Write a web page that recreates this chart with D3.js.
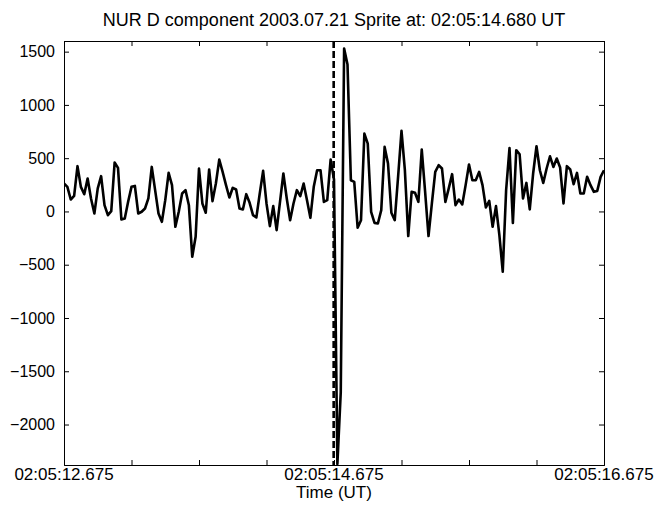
<!DOCTYPE html>
<html>
<head>
<meta charset="utf-8">
<script src="https://cdn.jsdelivr.net/npm/d3@7.9.0/dist/d3.min.js"></script>
<style>
  html, body { margin: 0; padding: 0; background: #fff; }
  svg { display: block; font-family: "Liberation Sans", Arial, Helvetica, sans-serif; }
</style>
</head>
<body>
<svg id="chart" width="665" height="508"></svg>
<script>
// ====== DATA ======

const titleText = 'NUR D component 2003.07.21 Sprite at: 02:05:14.680 UT';
const xLabel = 'Time (UT)';

// seconds after 02:05:00, one sample every 0.025 s
const startSec = 12.675;
const sampleStep = 0.025;
const spriteSec = 14.680;

// D component values as plotted
const dValues = [
  262, 231, 112, 146, 425, 231, 162, 309, 122, -19,
  216, 331, 59, -35, 3, 459, 409, -75, -66, 90,
  231, 240, -19, -3, 28, 122, 418, 200, -19, -97,
  106, 362, 247, -144, -3, 169, 200, 59, -425, -238,
  403, 75, -12, 394, 97, 262, 487, 371, 247, 131,
  222, 206, 28, 19, 162, 81, -35, -56, 169, 381,
  75, -138, 50, -175, 90, 356, 122, -82, 75, 200,
  143, 262, 106, -60, 231, 387, 387, 90, 106, 487,
  300, -2370, -1700, 1530, 1380, 293, 278, -153, -82, 731,
  637, -3, -107, -113, 12, 606, 450, -12, -82, 330,
  756, 387, -231, 184, 175, 90, 581, 184, -231, 75,
  371, 434, 403, 90, 216, 350, 59, 112, 66, 247,
  441, 293, 293, 371, 247, 37, 100, -144, 50, -222,
  -566, 200, 595, -107, 575, 537, 122, 268, 19, 356,
  612, 387, 268, 403, 518, 418, 497, 412, 75, 425,
  394, 256, 362, 169, 169, 325, 247, 184, 193, 325,
  387
];

const xDomain = [12.675, 16.675];
const yDomain = [-2380, 1600];

const xTickMinor = [12.675, 13.175, 13.675, 14.175, 14.675, 15.175, 15.675, 16.175, 16.675];
const xTickMajor = [12.675, 14.675, 16.675];
const xTickLabels = ['02:05:12.675', '02:05:14.675', '02:05:16.675'];
const yTicks = [-2000, -1500, -1000, -500, 0, 500, 1000, 1500];

// ====== LAYOUT ======

const margin = { left: 64, right: 61, top: 41, bottom: 43 };
const width = 665, height = 508;
const plotW = width - margin.left - margin.right;
const plotH = height - margin.top - margin.bottom;
const tickLen = 5;

const svg = d3.select('#chart');

const x = d3.scaleLinear().domain(xDomain).range([0, plotW]);
const y = d3.scaleLinear().domain(yDomain).range([plotH, 0]);

const g = svg.append('g')
  .attr('transform', `translate(${margin.left},${margin.top})`);

const points = dValues.map((v, i) => ({ t: startSec + i * sampleStep, v }));

g.append('clipPath').attr('id', 'plot-clip')
  .append('rect').attr('width', plotW).attr('height', plotH);

// ====== AXES (matlab style: box, inward ticks) ======

function fmtY(d) {
  return d < 0 ? '\u2212' + Math.abs(d) : String(d);
}

const xBottom = g.append('g')
  .attr('transform', `translate(0,${plotH})`)
  .call(d3.axisBottom(x).tickValues(xTickMinor).tickSize(-tickLen).tickFormat(''));
const xTop = g.append('g')
  .call(d3.axisTop(x).tickValues(xTickMinor).tickSize(-tickLen).tickFormat(''));
const yLeft = g.append('g')
  .call(d3.axisLeft(y).tickValues(yTicks).tickSize(-tickLen).tickPadding(9).tickFormat(fmtY));
const yRight = g.append('g')
  .attr('transform', `translate(${plotW},0)`)
  .call(d3.axisRight(y).tickValues(yTicks).tickSize(-tickLen).tickFormat(''));

[xBottom, xTop, yLeft, yRight].forEach((ax) => {
  ax.select('.domain').attr('stroke', '#000').attr('stroke-width', 1);
  ax.selectAll('.tick line').attr('stroke', '#000').attr('stroke-width', 1);
});

yLeft.selectAll('.tick text')
  .attr('fill', '#000')
  .attr('font-size', 16)
  .attr('font-family', '"Liberation Sans", Arial, sans-serif');

// only three of the x ticks carry labels
g.append('g')
  .selectAll('text')
  .data(xTickMajor)
  .join('text')
  .attr('x', (d) => x(d))
  .attr('y', plotH + 15)
  .attr('text-anchor', 'middle')
  .attr('font-size', 17)
  .attr('fill', '#000')
  .text((d, i) => xTickLabels[i]);

// ====== MARKS ======

const line = d3.line()
  .x((d) => x(d.t))
  .y((d) => y(d.v));

g.append('path')
  .datum(points)
  .attr('clip-path', 'url(#plot-clip)')
  .attr('fill', 'none')
  .attr('stroke', '#000')
  .attr('stroke-width', 2.6)
  .attr('stroke-linejoin', 'round')
  .attr('d', line);

// sprite time marker
g.append('line')
  .attr('x1', x(spriteSec) - 1)
  .attr('x2', x(spriteSec) - 1)
  .attr('y1', 0)
  .attr('y2', plotH)
  .attr('stroke', '#000')
  .attr('stroke-width', 2.6)
  .attr('stroke-dasharray', '7,3');

// ====== TEXT ======

svg.append('text')
  .attr('x', margin.left + plotW / 2)
  .attr('y', 26)
  .attr('text-anchor', 'middle')
  .attr('font-size', 18)
  .attr('fill', '#000')
  .text(titleText);

svg.append('text')
  .attr('x', margin.left + plotW / 2)
  .attr('y', margin.top + plotH + 33)
  .attr('text-anchor', 'middle')
  .attr('font-size', 17)
  .attr('fill', '#000')
  .text(xLabel);
</script>
</body>
</html>
